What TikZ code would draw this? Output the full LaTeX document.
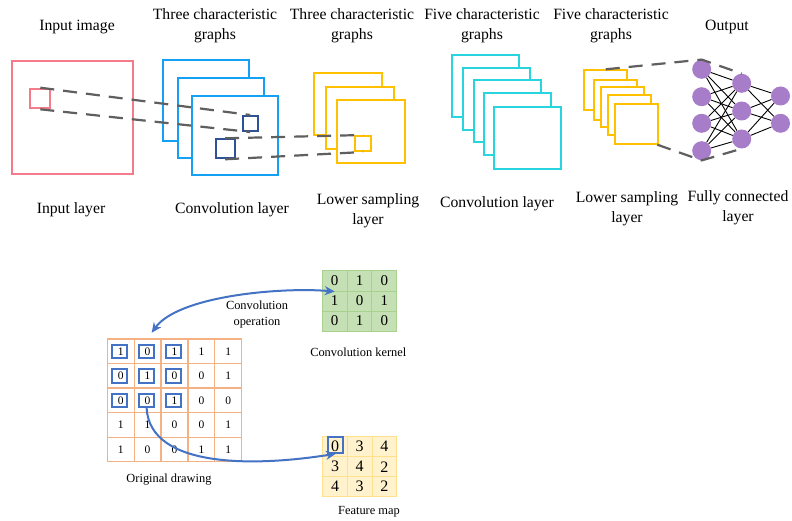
\documentclass[tikz,border=0pt]{standalone}
\usepackage{fontspec}
\setmainfont{Liberation Serif}
\usetikzlibrary{arrows.meta}
\definecolor{cRed}{RGB}{244,123,138}
\definecolor{cBlue}{RGB}{20,160,245}
\definecolor{cDark}{RGB}{47,82,150}
\definecolor{cYel}{RGB}{255,192,0}
\definecolor{cCyan}{RGB}{40,212,222}
\definecolor{cPur}{RGB}{167,124,201}
\definecolor{cArr}{RGB}{68,114,196}
\definecolor{cOr}{RGB}{244,177,131}
\definecolor{kFill}{RGB}{197,224,180}
\definecolor{kLine}{RGB}{169,209,142}
\definecolor{fFill}{RGB}{255,242,204}
\definecolor{fLine}{RGB}{255,224,140}
\definecolor{cGray}{RGB}{95,95,95}
\begin{document}
\begin{tikzpicture}[x=1pt,y=-1pt,
  frame/.style={draw, fill=white, line width=2pt, inner sep=0pt, anchor=north west},
  sq/.style={draw, line width=2pt, inner sep=0pt, anchor=north west},
  tl/.style={font=\fontsize{15.7}{20}\selectfont, align=center, inner sep=0pt},
  bl/.style={font=\fontsize{12.4}{15.6}\selectfont, align=center, inner sep=0pt},
  gdash/.style={draw=cGray, line width=2.2pt, dash pattern=on 14pt off 9pt},
  neu/.style={circle, fill=cPur, minimum size=19pt, inner sep=0pt},
  edge/.style={draw=black, line width=0.9pt},
  ocell/.style={draw=cOr, line width=1.2pt, fill=white, minimum width=26.88pt, minimum height=24.54pt, inner sep=0pt, font=\fontsize{11.5}{12}\selectfont},
  kcell/.style={draw=kLine, line width=1pt, fill=kFill, minimum width=24.8pt, minimum height=20pt, inner sep=0pt, font=\fontsize{15}{16}\selectfont},
  fcell/.style={draw=fLine, line width=1pt, fill=fFill, minimum width=24.67pt, minimum height=20pt, inner sep=0pt, font=\fontsize{16}{17}\selectfont},
  bsq/.style={draw=cArr, line width=2pt, minimum width=15pt, minimum height=13.5pt, inner sep=0pt},
  barrow/.style={draw=cArr, line width=2pt, arrows={-Stealth[length=10pt,width=9pt]}}
]
\fill[white] (0,0) rectangle (792,521);
\useasboundingbox (0,0) rectangle (792,521);

% ---------- top labels ----------
\node[tl] (t1) at (77,27) {Input image};
\node[tl] (t2) at (215,26) {Three characteristic\\graphs};
\node[tl] (t3) at (352,26) {Three characteristic\\graphs};
\node[tl] (t4) at (482,26) {Five characteristic\\graphs};
\node[tl] (t5) at (611,26) {Five characteristic\\graphs};
\node[tl] (t6) at (727,27) {Output};
\node[tl] (b1) at (71,210) {Input layer};
\node[tl] (b2) at (232,210) {Convolution layer};
\node[tl] (b3) at (368,211) {Lower sampling\\layer};
\node[tl] (b4) at (497,204) {Convolution layer};
\node[tl] (b5) at (627,208.5) {Lower sampling\\layer};
\node[tl] (b6) at (738,207.5) {Fully connected\\layer};

% ---------- input ----------
\node[frame, draw=cRed, minimum width=121pt, minimum height=112.7pt] (inp) at (10.7,60) {};
\node[sq, draw=cRed, minimum width=20pt, minimum height=19.6pt] (rs) at (29.3,87.7) {};

% ---------- convolution layer 1 ----------
\node[frame, draw=cBlue, minimum width=86pt, minimum height=81pt] (c1) at (162.3,59.3) {};
\node[frame, draw=cBlue, minimum width=86pt, minimum height=80pt] (c2) at (176.7,77.3) {};
\node[frame, draw=cBlue, minimum width=86pt, minimum height=79.5pt] (c3) at (191,95) {};
\node[sq, draw=cDark, minimum width=15pt, minimum height=15pt] (d1) at (241.7,115) {};
\node[sq, draw=cDark, minimum width=19.3pt, minimum height=19pt] (d2) at (214.5,138.3) {};

% ---------- lower sampling 1 ----------
\node[frame, draw=cYel, minimum width=67.5pt, minimum height=62.5pt] (y1) at (313.3,71.7) {};
\node[frame, draw=cYel, minimum width=67.5pt, minimum height=62.5pt] (y2) at (325,86) {};
\node[frame, draw=cYel, minimum width=67.5pt, minimum height=63pt] (y3) at (336.3,99.3) {};
\node[sq, draw=cYel, minimum width=15.7pt, minimum height=15pt] (ys) at (354.3,135) {};

% ---------- convolution layer 2 ----------
\node[frame, draw=cCyan, minimum width=67pt, minimum height=62pt] (e1) at (451,54) {};
\node[frame, draw=cCyan, minimum width=67pt, minimum height=62pt] (e2) at (462,67.5) {};
\node[frame, draw=cCyan, minimum width=67pt, minimum height=62pt] (e3) at (472.5,79) {};
\node[frame, draw=cCyan, minimum width=67pt, minimum height=62pt] (e4) at (483,92.5) {};
\node[frame, draw=cCyan, minimum width=66.7pt, minimum height=61.7pt] (e5) at (493.3,106) {};

% ---------- lower sampling 2 ----------
\node[frame, draw=cYel, minimum width=43pt, minimum height=39.5pt] (s1) at (583.3,69.3) {};
\node[frame, draw=cYel, minimum width=43pt, minimum height=39.5pt] (s2) at (593.3,79.3) {};
\node[frame, draw=cYel, minimum width=43pt, minimum height=39.5pt] (s3) at (600,86.5) {};
\node[frame, draw=cYel, minimum width=43pt, minimum height=39.5pt] (s4) at (607,94.5) {};
\node[frame, draw=cYel, minimum width=42.7pt, minimum height=39.4pt] (s5) at (614,103.3) {};

% ---------- dashed links ----------
\draw[gdash] (rs.north) -- (d1.north);
\draw[gdash] (rs.south) -- (d1.south);
\draw[gdash] (d2.north) -- (ys.north);
\draw[gdash] (d2.south) -- (ys.south);

% ---------- fully connected ----------
\foreach \yy [count=\i] in {69.3,96.7,123.3,150.7} \node[neu] (n1\i) at (701.7,\yy) {};
\foreach \yy [count=\i] in {83.3,111,139} \node[neu] (n2\i) at (741.7,\yy) {};
\foreach \yy [count=\i] in {96,123.3} \node[neu] (n3\i) at (780.5,\yy) {};
\draw[gdash] (s1.north) -- (n11.north) -- (n21.north);
\draw[gdash] ([xshift=21pt]s5.south) -- (n14.south) -- (n23.south);
\foreach \i in {1,...,4} \foreach \j in {1,2,3} \draw[edge] (n1\i) -- (n2\j);
\foreach \i in {1,2,3} \foreach \j in {1,2} \draw[edge] (n2\i) -- (n3\j);

% ---------- original drawing ----------
\foreach \row [count=\r] in {{1,0,1,1,1},{0,1,0,0,1},{0,0,1,0,0},{1,1,0,0,1},{1,0,0,1,1}}{
  \foreach \v [count=\c] in \row {
    \node[ocell] (o-\r-\c) at ({107.3+(\c-0.5)*26.88},{339+(\r-0.5)*24.54}) {\v};
  }
}
\foreach \r in {1,2,3} \foreach \c in {1,2,3} \node[bsq] (q-\r-\c) at ([xshift=-1pt]o-\r-\c.center) {};
\node[bl] (lo) at (169,480) {Original drawing};

% ---------- kernel ----------
\foreach \row [count=\r] in {{0,1,0},{1,0,1},{0,1,0}}{
  \foreach \v [count=\c] in \row {
    \node[kcell] (k-\r-\c) at ({322.3+(\c-0.5)*24.8},{271+(\r-0.5)*20}) {\v};
  }
}
\node[bl] (lk) at (358.3,352) {Convolution kernel};

% ---------- feature map ----------
\foreach \row [count=\r] in {{0,3,4},{3,4,2},{4,3,2}}{
  \foreach \v [count=\c] in \row {
    \node[fcell] (f-\r-\c) at ({322.7+(\c-0.5)*24.67},{436.7+(\r-0.5)*20}) {\v};
  }
}
\node[bsq, minimum width=15pt, minimum height=16pt] (fq) at ([xshift=0.8pt,yshift=2pt]f-1-1.center) {};
\node[bl] (lf) at (369,511.5) {Feature map};

% ---------- arrows ----------
\node[bl] (lop) at (257,314.5) {Convolution\\operation};
\draw[barrow, arrows={Stealth[length=10pt,width=9pt]-Stealth[length=10pt,width=9pt]}, shorten <=7pt]
  (o-1-2.north) .. controls (178,296) and (280,287) .. (k-1-1.south);
\draw[barrow] (q-3-2.south) .. controls (150,470) and (260,466) .. (fq.south);
\end{tikzpicture}
\end{document}
